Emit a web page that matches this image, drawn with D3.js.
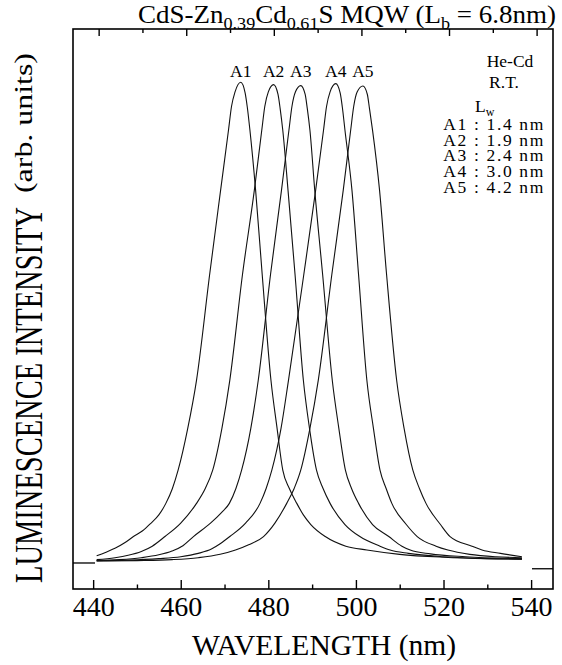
<!DOCTYPE html>
<html>
<head>
<meta charset="utf-8">
<script src="https://cdn.jsdelivr.net/npm/d3@7"></script>
<style>
  html, body { margin: 0; padding: 0; background: #fff; }
  svg { display: block; font-family: "Liberation Serif", "Times New Roman", serif; }
</style>
</head>
<body>
<svg id="chart" width="562" height="665"></svg>
<script>
// Photoluminescence spectra of CdS-Zn0.39Cd0.61S multiple quantum wells
// (wavelength in nm, intensity normalised, arb. units)
const seriesNames = ["A1", "A2", "A3", "A4", "A5"];
const wellWidths = ["1.4", "1.9", "2.4", "3.0", "4.2"];

const spectrumA1 = [
  [440.8, 0.015], [442.8, 0.022], [445.1, 0.031], [447.2, 0.042], [449.2, 0.055],
  [451.3, 0.067], [453.1, 0.082], [455.0, 0.100], [456.6, 0.124], [458.1, 0.155],
  [459.4, 0.193], [461.6, 0.280], [463.6, 0.380], [466.6, 0.600], [469.1, 0.775],
  [470.9, 0.900], [471.6, 0.950], [472.4, 0.980], [473.7, 1.000], [474.7, 0.978],
  [475.2, 0.948], [475.8, 0.900], [477.1, 0.775], [478.6, 0.600], [480.6, 0.380],
  [482.0, 0.280], [483.3, 0.193], [484.8, 0.155], [486.5, 0.124], [488.0, 0.100],
  [489.7, 0.080], [493.0, 0.055], [497.7, 0.035], [502.5, 0.027], [510.0, 0.018],
  [520.0, 0.012], [530.0, 0.009], [537.9, 0.008]
];
const spectrumA2 = [
  [440.8, 0.007], [445.0, 0.011], [448.0, 0.016], [451.0, 0.024], [453.5, 0.035],
  [456.4, 0.055], [460.0, 0.083], [463.6, 0.124], [465.6, 0.155], [467.3, 0.193],
  [469.4, 0.280], [471.2, 0.380], [474.1, 0.600], [476.8, 0.775], [478.5, 0.900],
  [479.2, 0.950], [480.0, 0.980], [481.2, 0.995], [482.2, 0.975], [482.7, 0.945],
  [483.3, 0.900], [484.5, 0.775], [486.1, 0.600], [488.0, 0.380], [489.4, 0.280],
  [491.0, 0.193], [492.5, 0.155], [494.1, 0.124], [497.5, 0.080], [500.9, 0.055],
  [505.5, 0.035], [507.8, 0.027], [512.0, 0.020], [520.0, 0.013], [530.0, 0.009],
  [537.9, 0.008]
];
const spectrumA3 = [
  [440.8, 0.005], [446.0, 0.007], [451.0, 0.011], [455.0, 0.017], [458.0, 0.025],
  [460.5, 0.036], [462.9, 0.055], [466.8, 0.083], [469.3, 0.105], [471.1, 0.124],
  [472.6, 0.155], [473.9, 0.193], [476.0, 0.280], [477.7, 0.380], [480.5, 0.600],
  [483.0, 0.775], [484.7, 0.900], [485.4, 0.950], [486.2, 0.980], [487.4, 0.993],
  [488.4, 0.975], [488.9, 0.945], [489.5, 0.900], [490.6, 0.775], [492.4, 0.600],
  [494.6, 0.380], [496.1, 0.280], [497.6, 0.193], [499.0, 0.155], [500.6, 0.124],
  [503.8, 0.080], [507.5, 0.055], [510.5, 0.035], [512.4, 0.027], [517.0, 0.019],
  [525.0, 0.013], [537.9, 0.009]
];
const spectrumA4 = [
  [440.8, 0.005], [448.0, 0.006], [455.0, 0.009], [460.0, 0.013], [464.0, 0.020],
  [467.0, 0.029], [469.0, 0.040], [471.2, 0.055], [474.8, 0.083], [478.1, 0.124],
  [479.5, 0.155], [480.8, 0.193], [482.9, 0.280], [484.6, 0.380], [488.1, 0.600],
  [490.8, 0.775], [492.6, 0.900], [493.3, 0.950], [494.1, 0.980], [495.4, 0.997],
  [496.4, 0.978], [496.9, 0.948], [497.5, 0.900], [499.1, 0.775], [500.6, 0.600],
  [502.5, 0.380], [504.0, 0.280], [505.5, 0.193], [506.9, 0.155], [508.2, 0.124],
  [511.5, 0.080], [514.0, 0.055], [518.3, 0.035], [521.0, 0.027], [526.0, 0.018],
  [532.0, 0.013], [537.9, 0.011]
];
const spectrumA5 = [
  [440.8, 0.004], [450.0, 0.005], [458.0, 0.007], [464.0, 0.011], [469.0, 0.018],
  [472.5, 0.027], [475.5, 0.038], [478.9, 0.055], [481.5, 0.083], [484.2, 0.124],
  [485.9, 0.155], [487.4, 0.193], [489.5, 0.280], [491.4, 0.380], [494.5, 0.600],
  [497.1, 0.775], [498.8, 0.900], [499.5, 0.950], [500.3, 0.980], [501.6, 0.992],
  [502.6, 0.975], [503.1, 0.945], [503.8, 0.900], [505.4, 0.775], [507.0, 0.600],
  [509.3, 0.380], [511.0, 0.280], [513.0, 0.193], [514.5, 0.155], [516.0, 0.124],
  [519.3, 0.080], [521.5, 0.055], [526.5, 0.035], [528.8, 0.027], [533.0, 0.020],
  [537.9, 0.013]
];
const spectra = [spectrumA1, spectrumA2, spectrumA3, spectrumA4, spectrumA5];

const majorTicks = [440, 460, 480, 500, 520, 540];
const minorTicks = [450, 470, 490, 510, 530];
// zero-signal reference levels marked on the left and right frame edges
const zeroLevelLeft = 0;
const zeroLevelRight = -0.012;

const svg = d3.select("#chart");
const frame = { left: 73, right: 553, top: 29, bottom: 589 };

const x = d3.scaleLinear().domain([435.4, 545.0]).range([frame.left, frame.right]);
const y = d3.scaleLinear().domain([-0.0541, 1.1107]).range([frame.bottom, frame.top]);

// stretch a text element horizontally to a target width
function fitWidth(sel, x0, y0, target) {
  const w = sel.node().getComputedTextLength();
  sel.attr("transform", `translate(${x0},${y0}) scale(${target / w},1) translate(${-x0},${-y0})`);
}

// spectra
const line = d3.line()
  .x(d => x(d[0]))
  .y(d => y(d[1]))
  .curve(d3.curveMonotoneX);

svg.append("g")
  .selectAll("path")
  .data(spectra)
  .join("path")
  .attr("d", line)
  .attr("fill", "none")
  .attr("stroke", "#111")
  .attr("stroke-width", 1.1)
  .attr("stroke-linejoin", "round");

// frame
svg.append("rect")
  .attr("x", frame.left).attr("y", frame.top)
  .attr("width", frame.right - frame.left)
  .attr("height", frame.bottom - frame.top)
  .attr("fill", "none").attr("stroke", "#000").attr("stroke-width", 1.6);

// bottom axis: inward ticks, labels below
const bottomMajor = svg.append("g")
  .attr("transform", `translate(0,${frame.bottom})`)
  .call(d3.axisBottom(x).tickValues(majorTicks).tickSizeInner(-9).tickSizeOuter(0).tickPadding(7)
    .tickFormat(d3.format("d")));
bottomMajor.select(".domain").remove();
bottomMajor.selectAll("line").attr("stroke", "#000").attr("stroke-width", 1.4);
bottomMajor.selectAll("text")
  .attr("font-family", "'Liberation Serif', 'Times New Roman', serif")
  .attr("font-size", 28).attr("fill", "#000");

const bottomMinor = svg.append("g")
  .attr("transform", `translate(0,${frame.bottom})`)
  .call(d3.axisBottom(x).tickValues(minorTicks).tickSizeInner(-4.5).tickSizeOuter(0).tickFormat(""));
bottomMinor.select(".domain").remove();
bottomMinor.selectAll("line").attr("stroke", "#000").attr("stroke-width", 1.4);

// top axis: inward ticks, no labels
const topShift = 5.5;
const topMajor = svg.append("g")
  .attr("transform", `translate(${topShift},${frame.top})`)
  .call(d3.axisTop(x).tickValues(majorTicks).tickSizeInner(-7).tickSizeOuter(0).tickFormat(""));
topMajor.select(".domain").remove();
topMajor.selectAll("line").attr("stroke", "#000").attr("stroke-width", 1.4);
const topMinor = svg.append("g")
  .attr("transform", `translate(${topShift},${frame.top})`)
  .call(d3.axisTop(x).tickValues(minorTicks).tickSizeInner(-4).tickSizeOuter(0).tickFormat(""));
topMinor.select(".domain").remove();
topMinor.selectAll("line").attr("stroke", "#000").attr("stroke-width", 1.4);

// zero-level markers
svg.append("line")
  .attr("x1", frame.left).attr("x2", frame.left + 22)
  .attr("y1", y(zeroLevelLeft)).attr("y2", y(zeroLevelLeft))
  .attr("stroke", "#000").attr("stroke-width", 1.3);
svg.append("line")
  .attr("x1", frame.right - 21).attr("x2", frame.right)
  .attr("y1", y(zeroLevelRight)).attr("y2", y(zeroLevelRight))
  .attr("stroke", "#000").attr("stroke-width", 1.3);

// peak labels above each spectrum
svg.append("g")
  .selectAll("text")
  .data(spectra)
  .join("text")
  .attr("x", (d) => x(d3.greatest(d, p => p[1])[0]))
  .attr("y", 76.7)
  .attr("text-anchor", "middle")
  .attr("font-size", 17.5)
  .text((d, i) => seriesNames[i]);

// title
const title = svg.append("text")
  .attr("x", 138).attr("y", 23.3)
  .attr("font-size", 24.5);
title.append("tspan").text("CdS-Zn");
title.append("tspan").attr("font-size", 16.5).attr("dy", 6).text("0.39");
title.append("tspan").attr("dy", -6).text("Cd");
title.append("tspan").attr("font-size", 16.5).attr("dy", 6).text("0.61");
title.append("tspan").attr("dy", -6).text("S MQW (L");
title.append("tspan").attr("font-size", 16.5).attr("dy", 6).text("b");
title.append("tspan").attr("dy", -6).text(" = 6.8nm)");
fitWidth(title, 138, 23.3, 418);

// legend block
const legend = svg.append("g").attr("font-size", 17.5);
legend.append("text").attr("x", 510).attr("y", 66.5).attr("text-anchor", "middle").text("He-Cd");
legend.append("text").attr("x", 504).attr("y", 88.3).attr("text-anchor", "middle").text("R.T.");
const lw = legend.append("text").attr("x", 475).attr("y", 111.7);
lw.append("tspan").text("L");
lw.append("tspan").attr("font-size", 12).attr("dy", 4).text("w");
legend.selectAll("text.row")
  .data(seriesNames)
  .join("text")
  .attr("class", "row")
  .attr("x", 443.3)
  .attr("y", (d, i) => 130 + i * 15.67)
  .attr("textLength", 100)
  .attr("lengthAdjust", "spacing")
  .text((d, i) => `${d} : ${wellWidths[i]} nm`);

// axis titles
svg.append("text")
  .attr("x", 324).attr("y", 655)
  .attr("text-anchor", "middle")
  .attr("font-size", 29.5)
  .text("WAVELENGTH (nm)");

svg.append("text")
  .attr("transform", "translate(41.7,583) rotate(-90)")
  .attr("font-size", 39)
  .attr("textLength", 376)
  .attr("lengthAdjust", "spacingAndGlyphs")
  .text("LUMINESCENCE INTENSITY");

svg.append("text")
  .attr("transform", "translate(31.5,193) rotate(-90)")
  .attr("font-size", 25)
  .attr("textLength", 140)
  .attr("lengthAdjust", "spacingAndGlyphs")
  .text("(arb. units)");
</script>
</body>
</html>
